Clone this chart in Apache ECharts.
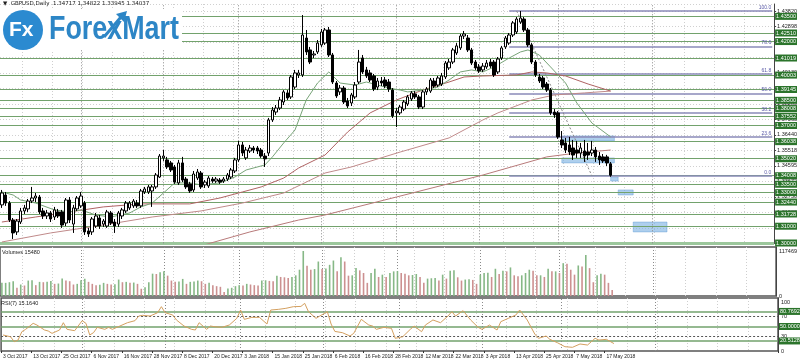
<!DOCTYPE html>
<html><head><meta charset="utf-8">
<script src="https://cdn.jsdelivr.net/npm/echarts@6/dist/echarts.min.js"></script>
<style>html,body{margin:0;padding:0;background:#fff}#c{width:800px;height:364px}</style>
</head><body><div id="c"></div>
<script>
// ---------- DATA ----------
const tickLabels = ['3 Oct 2017','13 Oct 2017','25 Oct 2017','6 Nov 2017','16 Nov 2017','28 Nov 2017','8 Dec 2017','20 Dec 2017','3 Jan 2018','15 Jan 2018','25 Jan 2018','6 Feb 2018','16 Feb 2018','28 Feb 2018','12 Mar 2018','22 Mar 2018','3 Apr 2018','13 Apr 2018','25 Apr 2018','7 May 2018','17 May 2018'];

const opens = [
1.3227,1.3286,1.3238,1.3137,1.3066,1.3125,1.3191,1.3203,1.3250,1.3268,
1.3274,1.3191,1.3161,1.3179,1.3155,1.3185,1.3185,1.3119,1.3256,1.3113,
1.3203,1.3221,1.3238,1.3072,1.3066,1.3101,1.3149,1.3113,1.3101,1.3179,
1.3125,1.3113,1.3161,1.3191,1.3209,1.3221,1.3238,1.3221,1.3304,1.3304,
1.3310,1.3334,1.3393,1.3507,1.3495,1.3477,1.3453,1.3358,1.3477,1.3381,
1.3352,1.3316,1.3387,1.3417,1.3346,1.3340,1.3381,1.3369,1.3375,1.3369,
1.3381,1.3393,1.3429,1.3495,1.3584,1.3507,1.3548,1.3566,1.3566,1.3554,
1.3518,1.3536,1.3733,1.3780,1.3804,1.3840,1.3894,1.3870,1.3929,1.4001,
1.4001,1.4221,1.4150,1.4120,1.4138,1.4180,1.4191,1.4269,1.4120,1.3953,
1.3900,1.3923,1.3846,1.3834,1.3870,1.3959,1.4102,1.4031,1.4013,1.3995,
1.3929,1.3965,1.3971,1.3959,1.3911,1.3775,1.3775,1.3798,1.3828,1.3858,
1.3888,1.3870,1.3810,1.3900,1.3905,1.3965,1.3941,1.3947,1.3989,1.4043,
1.4078,1.4132,1.4162,1.4233,1.4221,1.4150,1.4078,1.4049,1.4031,1.4049,
1.4078,1.4078,1.4019,1.4102,1.4168,1.4191,1.4239,1.4257,1.4316,1.4334,
1.4269,1.4180,1.4078,1.3989,1.3983,1.3947,1.3911,1.3780,1.3775,1.3614,
1.3596,1.3584,1.3566,1.3554,1.3536,1.3548,1.3542,1.3536,1.3554,1.3518,
1.3513,1.3513,1.34717];
const closes = [
1.3298,1.3238,1.3137,1.3060,1.3131,1.3191,1.3209,1.3250,1.3268,1.3280,
1.3185,1.3161,1.3179,1.3143,1.3197,1.3161,1.3107,1.3256,1.3137,1.3209,
1.3268,1.3280,1.3066,1.3054,1.3143,1.3161,1.3101,1.3131,1.3185,1.3119,
1.3101,1.3179,1.3197,1.3238,1.3238,1.3250,1.3221,1.3310,1.3322,1.3334,
1.3334,1.3405,1.3518,1.3518,1.3453,1.3435,1.3363,1.3477,1.3375,1.3334,
1.3310,1.3411,1.3423,1.3334,1.3363,1.3387,1.3369,1.3381,1.3363,1.3381,
1.3405,1.3435,1.3495,1.3584,1.3536,1.3554,1.3566,1.3554,1.3548,1.3518,
1.3501,1.3733,1.3792,1.3804,1.3852,1.3900,1.3864,1.3989,1.4013,1.4013,
1.4239,1.4138,1.4078,1.4126,1.4191,1.4257,1.4269,1.4120,1.3959,1.3876,
1.3923,1.3840,1.3816,1.3882,1.3941,1.4078,1.4019,1.3995,1.3971,1.3917,
1.3965,1.3953,1.3935,1.3917,1.3757,1.3786,1.3810,1.3840,1.3870,1.3894,
1.3870,1.3810,1.3900,1.3917,1.3971,1.3935,1.3983,1.3995,1.4072,1.4078,
1.4150,1.4174,1.4233,1.4245,1.4150,1.4072,1.4043,1.4025,1.4054,1.4072,
1.4054,1.4001,1.4096,1.4162,1.4221,1.4239,1.4311,1.4334,1.4340,1.4269,
1.4180,1.4078,1.4001,1.3965,1.3929,1.3911,1.3775,1.3763,1.3632,1.3584,
1.3554,1.3542,1.3524,1.3536,1.3566,1.3518,1.3524,1.3554,1.3513,1.3495,
1.3489,1.3477,1.34037];
const highs = [
1.3316,1.3304,1.3250,1.3149,1.3143,1.3209,1.3227,1.3262,1.3334,1.3298,
1.3286,1.3209,1.3197,1.3191,1.3215,1.3203,1.3197,1.3268,1.3274,1.3227,
1.3280,1.3304,1.3250,1.3090,1.3155,1.3179,1.3167,1.3143,1.3197,1.3191,
1.3143,1.3191,1.3209,1.3250,1.3250,1.3262,1.3256,1.3322,1.3334,1.3346,
1.3346,1.3417,1.3530,1.3554,1.3513,1.3489,1.3465,1.3495,1.3513,1.3393,
1.3363,1.3429,1.3441,1.3429,1.3375,1.3399,1.3393,1.3393,1.3387,1.3393,
1.3417,1.3447,1.3507,1.3608,1.3602,1.3572,1.3584,1.3578,1.3578,1.3566,
1.3536,1.3745,1.3810,1.3822,1.3870,1.3911,1.3911,1.4001,1.4031,1.4031,
1.4358,1.4269,1.4168,1.4144,1.4209,1.4275,1.4281,1.4287,1.4132,1.3965,
1.3941,1.3935,1.3864,1.3894,1.3959,1.4150,1.4120,1.4049,1.4031,1.4007,
1.3983,1.3989,1.3989,1.3977,1.3923,1.3804,1.3822,1.3852,1.3882,1.3905,
1.3905,1.3882,1.3911,1.3929,1.3983,1.3983,1.3995,1.4013,1.4084,1.4096,
1.4162,1.4191,1.4245,1.4263,1.4239,1.4162,1.4090,1.4066,1.4072,1.4090,
1.4096,1.4090,1.4108,1.4174,1.4233,1.4251,1.4322,1.4346,1.4382,1.4346,
1.4281,1.4191,1.4090,1.4007,1.3995,1.3959,1.3923,1.3798,1.3786,1.3667,
1.3626,1.3632,1.3614,1.3608,1.3596,1.3614,1.3596,1.3608,1.3572,1.3542,
1.3530,1.3525,1.34822];
const lows = [
1.3209,1.3221,1.3125,1.3024,1.3048,1.3113,1.3173,1.3185,1.3238,1.3244,
1.3173,1.3143,1.3143,1.3125,1.3137,1.3149,1.3090,1.3101,1.3119,1.3060,
1.3191,1.3209,1.3048,1.3036,1.3048,1.3090,1.3084,1.3096,1.3090,1.3107,
1.3060,1.3096,1.3143,1.3179,1.3197,1.3209,1.3209,1.3209,1.3292,1.3292,
1.3215,1.3322,1.3387,1.3489,1.3441,1.3423,1.3352,1.3346,1.3363,1.3322,
1.3298,1.3304,1.3375,1.3322,1.3328,1.3328,1.3358,1.3358,1.3352,1.3358,
1.3369,1.3381,1.3417,1.3483,1.3518,1.3495,1.3536,1.3536,1.3530,1.3507,
1.3453,1.3518,1.3721,1.3763,1.3792,1.3822,1.3852,1.3858,1.3917,1.3983,
1.3989,1.4120,1.4066,1.4102,1.4126,1.4168,1.4180,1.4108,1.3947,1.3864,
1.3882,1.3828,1.3804,1.3816,1.3858,1.3947,1.4007,1.3983,1.3959,1.3905,
1.3911,1.3935,1.3923,1.3900,1.3745,1.3691,1.3763,1.3786,1.3816,1.3846,
1.3858,1.3798,1.3798,1.3882,1.3894,1.3923,1.3929,1.3935,1.3977,1.4031,
1.4066,1.4120,1.4150,1.4215,1.4138,1.4060,1.4031,1.4013,1.4019,1.4037,
1.4043,1.3989,1.4007,1.4090,1.4156,1.4180,1.4227,1.4245,1.4305,1.4257,
1.4168,1.4066,1.3989,1.3953,1.3917,1.3900,1.3763,1.3745,1.3620,1.3566,
1.3536,1.3524,1.3495,1.3507,1.3507,1.3483,1.3495,1.3518,1.3483,1.3465,
1.3477,1.3459,1.33945];

const volumes = [
34300,34300,36000,38600,21400,30000,27400,40300,41100,28300,
36900,36000,36900,39400,31700,32600,45400,40300,38600,30000,
31700,41100,45000,36900,31700,28300,29100,34300,31700,30000,
30900,42900,36000,36900,34300,35100,31700,18900,23100,36000,
58300,57400,61700,64300,53100,40300,36900,37700,44600,31700,
36900,37700,40300,38600,31700,34300,28300,25700,24000,10300,
19700,21400,25700,28300,27400,31700,30000,28300,27400,40300,
41100,39400,38600,53100,49700,48800,47100,49700,54000,68600,
117469,78900,68600,70300,90000,70300,72000,81400,92600,64300,
101100,90000,53100,54000,72800,66900,60000,34300,60000,71100,
49700,55700,49700,60000,64300,65100,60000,58300,54000,54800,
57400,49700,34300,45400,46300,47100,40300,55700,45400,66000,
66900,48800,40300,42900,43700,42000,31700,55700,60000,60800,
49700,71100,57400,66000,64300,74600,54000,51400,54000,60000,
68600,66000,54000,54000,49700,71100,64300,64300,60000,85700,
84000,68600,55700,79700,77100,107100,72800,36000,54000,58300,
55700,34300,15480];

const rsiPoints = [[0,32.7],[2,29],[3,19],[4,22.4],[5,39.4],[6,44.2],[8,56.5],[9,53],[11,42.9],[12,40.8],[13,36],[15,42.9],[16,57.8],[17,44.2],[19,41.5],[21,61.9],[22,56.5],[23,32.7],[24,37.4],[25,48.3],[27,44.2],[28,48.3],[29,44.2],[31,51],[33,57.8],[35,61.9],[36,71.4],[37,72.8],[39,71.4],[41,78.2],[42,90.5],[43,78.2],[45,73.5],[46,63.3],[48,51],[50,44.2],[51,42.9],[52,57.8],[54,44.2],[55,51],[56,49.7],[58,48.3],[60,53],[62,66.7],[63,83.7],[64,64.6],[66,68.7],[68,68.7],[70,55.1],[71,83.7],[73,85],[75,87.1],[77,90.5],[79,91],[80,97.3],[81,80.3],[83,66.7],[84,71.4],[86,80.3],[87,55],[88,40],[90,37.4],[92,30.6],[93,36],[95,64.6],[97,53],[98,51],[99,44.2],[101,48.3],[103,46.3],[104,25.9],[106,29.2],[108,44.2],[109,51],[111,39.4],[112,53],[114,63.3],[116,57.8],[118,71.4],[119,80.3],[120,71.4],[122,82.3],[124,63.3],[126,48.3],[127,44.2],[129,53],[131,42.9],[132,59.9],[134,66.7],[136,73.5],[137,83.7],[139,63.3],[141,34.7],[142,25.9],[144,30.6],[145,23.8],[147,17],[149,8.8],[151,7.5],[153,14.3],[155,12.2],[157,25.9],[158,22.4],[160,23.8],[162,15.164]];

const maGreen = [[0,1.3304],[3,1.3286],[5,1.3256],[9,1.3238],[14,1.3197],[18,1.3185],[21,1.3197],[25,1.3167],[29,1.3155],[34,1.3179],[37,1.3215],[40,1.3238],[43,1.3298],[46,1.3358],[50,1.3358],[53,1.3346],[58,1.3358],[62,1.3393],[65,1.3435],[70,1.3465],[72,1.3513],[75,1.3596],[78,1.3673],[81,1.3852],[84,1.3953],[87,1.4019],[90,1.3953],[94,1.3941],[97,1.3959],[100,1.3941],[103,1.3923],[106,1.3911],[108,1.3900],[112,1.3911],[116,1.3929],[119,1.3971],[122,1.4019],[125,1.4031],[128,1.4019],[131,1.4049],[135,1.4102],[138,1.4138],[140,1.4150],[143,1.4120],[146,1.4049],[150,1.3953],[153,1.3834],[157,1.3715],[162,1.3632]];
const maRedA = [[0,1.3125],[9,1.3155],[18,1.3185],[27,1.3215],[37,1.3233],[50,1.3233],[58,1.3268],[64,1.3304],[69,1.3334],[75,1.3387],[79,1.3447],[86,1.3524],[92,1.3661],[98,1.3775],[105,1.3852],[112,1.3911],[119,1.3959],[123,1.3989],[128,1.3995],[137,1.4001],[141,1.4019],[145,1.4013],[150,1.3995],[156,1.3947],[162,1.3905]];
const maRedB = [[0,1.3006],[13,1.3060],[27,1.3107],[40,1.3155],[53,1.3191],[64,1.3238],[75,1.3298],[86,1.3417],[93,1.3453],[106,1.3542],[119,1.3626],[128,1.3733],[132,1.3775],[141,1.3852],[147,1.3882],[155,1.3894],[162,1.3905]];
const maRedC = [[52,1.2977],[66,1.3066],[79,1.3137],[86,1.3167],[105,1.3274],[128,1.3405],[145,1.3513],[153,1.3536],[162,1.3554]];

const levels = [1.43500,1.42510,1.42000,1.41019,1.40003,1.39145,1.38500,1.38008,1.37552,1.37000,1.36038,1.35020,1.34008,1.33500,1.33000,1.32440,1.31728,1.31000,1.30000];
const fibLevels = [1.43820,1.41720,1.40072,1.38914,1.37756,1.36324,1.34008];
const fibNames = ['100.0','78.6','61.8','50.0','38.2','23.6','0.0'];
const rsiLevels = [80.7692,50.0000,20.5128];
const rsiDotted = [70,30];
const monthSeparators = [21,43,63,85,105,127,148,173];
const noteBoxes = [[[149,1.3638],[163,1.3608]],[[149,1.3507],[163,1.3477]],[[162,1.3393],[164,1.3369]],[[164,1.3316],[168,1.3286]],[[168,1.3125],[177,1.3066]]];

// ---------- CHART ----------
const N = 206;
const cats = Array.from({length: N}, (_, i) => String(i));
const candleData = opens.map((o, i) => [o, closes[i], lows[i], highs[i]]);
const FONT = 'Liberation Sans';
const boxBg = '#2b742b';

const sepLines = monthSeparators.map(v => ({xAxis: v, lineStyle: {color: '#8a8a8a', type: [1, 2], width: 1}, label: {show: false}}));

const option = {
  animation: false,
  backgroundColor: '#fff',
  grid: [
    {left: -3, right: 22, top: 4, height: 239.3},
    {left: -3, right: 22, top: 247, height: 49, show: true, borderColor: '#555', borderWidth: 1.5},
    {left: -3, right: 22, top: 298, height: 53, show: true, borderColor: '#555', borderWidth: 1.5}
  ],
  xAxis: [0, 1, 2].map(g => ({
    type: 'category', gridIndex: g, data: cats, boundaryGap: true,
    axisLine: {show: false},
    axisTick: {show: g === 2, length: 2, interval: (i) => i % 8 === 0 && i <= 160, lineStyle: {color: '#333'}},
    axisLabel: {show: g === 2, interval: (i) => i % 8 === 0 && i <= 160, formatter: (v, i) => tickLabels[i / 8] || '',
      align: 'left', fontSize: 5, color: '#222', margin: 3, fontFamily: FONT},
    splitLine: {show: true, interval: (i) => i % 8 === 6, lineStyle: {color: '#cfcfcf', type: [1, 2], width: 1}}
  })),
  yAxis: [
    {type: 'value', gridIndex: 0, position: 'right', min: 1.299825, max: 1.442369, interval: 0.009225,
     axisLine: {show: true, lineStyle: {color: '#444'}}, axisTick: {show: true, length: 2, lineStyle: {color: '#444'}},
     axisLabel: {fontSize: 5.5, color: '#222', margin: 3, fontFamily: FONT, showMaxLabel: false, formatter: v => v.toFixed(5)},
     splitLine: {show: true, lineStyle: {color: '#d0d0d0', type: [1, 2]}}},
    {type: 'value', gridIndex: 1, position: 'right', min: 0, max: 127911, interval: 117469,
     axisLine: {show: true, lineStyle: {color: '#444'}}, axisTick: {show: false},
     axisLabel: {fontSize: 5.5, color: '#222', margin: 3, fontFamily: FONT, showMaxLabel: false, formatter: v => (v === 0 || v === 117469) ? String(v) : ''},
     splitLine: {show: false}},
    {type: 'value', gridIndex: 2, position: 'right', min: 0, max: 108.2, interval: 10,
     axisLine: {show: true, lineStyle: {color: '#444'}}, axisTick: {show: false},
     axisLabel: {fontSize: 5.5, color: '#222', margin: 3, fontFamily: FONT, showMaxLabel: false,
       formatter: v => { const r = Math.round(v); return (Math.abs(v - r) < 1e-6 && [0, 30, 70, 100].indexOf(r) >= 0) ? String(r) : ''; }},
     splitLine: {show: false}}
  ],
  series: [
    {
      name: 'levels', type: 'line', xAxisIndex: 0, yAxisIndex: 0, data: maRedC, z: 3,
      symbol: 'none', lineStyle: {color: '#b87a7a', width: 1},
      markLine: {
        z: 1, silent: true, symbol: ['none', 'none'], animation: false, precision: 5,
        data: levels.map(v => ({yAxis: v,
          lineStyle: {color: v === 1.3 ? '#9cc79c' : '#72a26c', width: v === 1.3 ? 3 : 1, type: 'solid'},
          label: {show: true, position: 'end', distance: 1, formatter: v.toFixed(5),
            backgroundColor: boxBg, color: '#fff', fontSize: 5.5, fontFamily: FONT, padding: [1, 1, 0, 1]}}))
          .concat(sepLines)
          .concat(fibLevels.map((v, k) => [
            {coord: [135, v], name: fibNames[k], lineStyle: {color: '#8a8ab8', width: 1.5, type: 'solid'},
             label: {show: true, position: 'insideEndTop', distance: 1, formatter: fibNames[k], color: '#5a5aa8', fontSize: 5, fontFamily: FONT}},
            {coord: [205, v]}]))
          .concat([[{coord: [137, fibLevels[0]], lineStyle: {color: '#888', type: [2, 2], width: 1}, label: {show: false}}, {coord: [157, fibLevels[6]]}]])
      },
      markArea: {
        silent: true,
        itemStyle: {color: 'rgba(120,175,225,0.6)', borderColor: 'rgba(90,150,210,0.8)', borderWidth: 0.5},
        data: noteBoxes.map(b => [{coord: b[0]}, {coord: b[1]}])
      }
    },
    {name: 'MA long', type: 'line', xAxisIndex: 0, yAxisIndex: 0, data: maRedB, z: 3, symbol: 'none', lineStyle: {color: '#c08a8a', width: 1}},
    {name: 'MA mid', type: 'line', xAxisIndex: 0, yAxisIndex: 0, data: maRedA, z: 3, symbol: 'none', lineStyle: {color: '#b06464', width: 1}},
    {name: 'MA short', type: 'line', xAxisIndex: 0, yAxisIndex: 0, data: maGreen, z: 3, symbol: 'none', lineStyle: {color: '#78a478', width: 1}},
    {
      name: 'GBPUSD', type: 'candlestick', xAxisIndex: 0, yAxisIndex: 0, data: candleData, z: 6,
      barWidth: 3,
      itemStyle: {color: '#ffffff', color0: '#000000', borderColor: '#000000', borderColor0: '#000000', borderWidth: 1}
    },
    {
      name: 'Volumes', type: 'bar', xAxisIndex: 1, yAxisIndex: 1, data: volumes, barWidth: 1.6,
      itemStyle: {color: p => (p.dataIndex === 0 || volumes[p.dataIndex] >= volumes[p.dataIndex - 1]) ? '#86b886' : '#cc9090'},
      markLine: {z: 1, silent: true, symbol: ['none', 'none'], data: sepLines}
    },
    {
      name: 'RSI', type: 'line', xAxisIndex: 2, yAxisIndex: 2, data: rsiPoints, symbol: 'none', z: 5,
      lineStyle: {color: '#d4a060', width: 1},
      markLine: {
        z: 1, silent: true, symbol: ['none', 'none'], precision: 4,
        data: rsiLevels.map(v => ({yAxis: v, lineStyle: {color: '#72a26c', width: 1.5, type: 'solid'},
          label: {show: true, position: 'end', distance: 1, formatter: v.toFixed(4),
            backgroundColor: boxBg, color: '#fff', fontSize: 5.5, fontFamily: FONT, padding: [1, 1, 0, 1]}}))
          .concat(rsiDotted.map(v => ({yAxis: v, lineStyle: {color: '#555', width: 1, type: [2, 2]}, label: {show: false}})))
          .concat(sepLines)
      }
    }
  ],
  graphic: [
    {type: 'text', x: 3, y: 1, z: 20, style: {text: '\u25BC  GBPUSD,Daily  1.34717 1.34822 1.33945 1.34037', fill: '#222', font: '5.5px "DejaVu Sans"'}},
    {type: 'rect', x: 0, y: 9, z: 15, shape: {width: 182, height: 41}, style: {fill: '#fff'}},
    {type: 'circle', z: 16, shape: {cx: 23, cy: 30, r: 20}, style: {fill: '#2b8ad0'}},
    {type: 'text', x: 9, y: 30, z: 17, style: {text: 'Fx', fill: '#fff', font: 'bold 21px "Liberation Sans"', verticalAlign: 'middle'}},
    {type: 'text', x: 49, y: 47, z: 17, scaleX: 0.79, style: {text: 'ForexMart', fill: '#2d86c6', font: 'bold 34px "Liberation Sans"', verticalAlign: 'bottom'}},
    {type: 'polyline', z: 18, shape: {points: [[104, 37], [121, 17]]}, style: {stroke: '#2d86c6', lineWidth: 3}},
    {type: 'polygon', z: 18, shape: {points: [[116, 14], [127, 11], [124, 22]]}, style: {fill: '#2d86c6'}},
    {type: 'text', x: 2, y: 249, z: 20, style: {text: 'Volumes 15480', fill: '#222', font: '5.5px "Liberation Sans"'}},
    {type: 'text', x: 1, y: 300, z: 20, style: {text: 'RSI(7) 15.1640', fill: '#222', font: '5.5px "Liberation Sans"'}}
  ]
};
const chart = echarts.init(document.getElementById('c'));
chart.setOption(option);
</script>
</body></html>
